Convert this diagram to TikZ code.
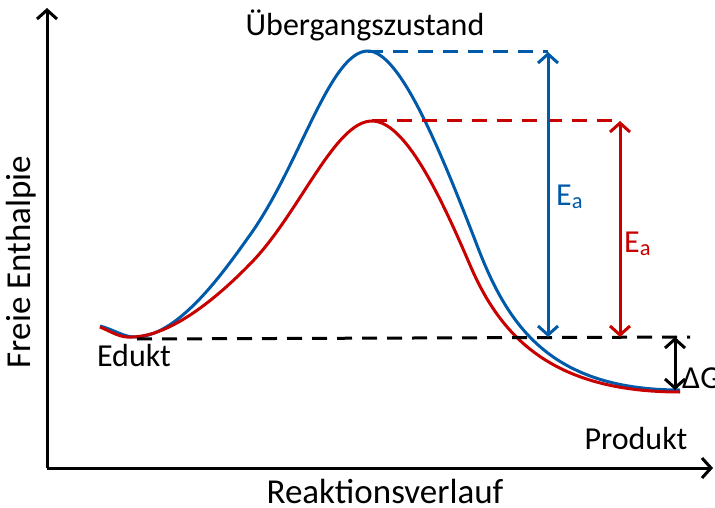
\documentclass[tikz,border=0pt]{standalone}
\usepackage{fontspec}
\setmainfont{Carlito}
\usetikzlibrary{arrows.meta}
\definecolor{eblue}{RGB}{0,90,170}
\definecolor{ered}{RGB}{200,0,0}
\tikzset{
  barb/.style={{Straight Barb[length=9pt,width=20pt]}-{Straight Barb[length=9pt,width=20pt]}},
  dashline/.style={line width=3pt,dash pattern=on 15pt off 10pt},
  curve/.style={line width=3pt},
  lbl/.style={font=\fontsize{32}{36}\selectfont,inner sep=0pt},
  axlbl/.style={font=\fontsize{35}{40}\selectfont,inner sep=0pt}
}
\begin{document}
\begin{tikzpicture}[x=1pt,y=-1pt]
\useasboundingbox (0,0) rectangle (715,508);
% axes
\coordinate (o) at (47,468);
\coordinate (ytop) at (47,8);
\coordinate (xend) at (713,468);
\draw[line width=3pt,-{Straight Barb[length=9pt,width=20pt]}] (o) -- (ytop);
\draw[line width=3pt,-{Straight Barb[length=9pt,width=20pt]}] (o) -- (xend);
\node[axlbl,rotate=90] (ylab) at (21,262) {Freie Enthalpie};
\node[axlbl,anchor=base] (xlab) at (385,503) {Reaktionsverlauf};
% curves
\draw[curve,eblue] (100,326) .. controls (115,330) and (125,338) .. (137,337)
  .. controls (180,335) and (225,270) .. (250,235)
  .. controls (300,165) and (330,51) .. (368,51)
  .. controls (400,51) and (440,150) .. (475,240)
  .. controls (505,320) and (545,390) .. (680,390);
\draw[curve,ered] (100,327) .. controls (112,332) and (120,338) .. (132,337)
  .. controls (175,336) and (225,290) .. (252,262)
  .. controls (300,212) and (335,121) .. (372,121)
  .. controls (405,121) and (440,195) .. (470,265)
  .. controls (500,335) and (550,392) .. (680,392);
% reference points
\coordinate (ed) at (137,339);
\coordinate (edend) at (690,337);
\coordinate (bpk) at (368,52);
\coordinate (bpe) at (548,52);
\coordinate (bpb) at (548,337);
\coordinate (rpk) at (372,121);
\coordinate (rpe) at (620,121);
\coordinate (rpb) at (620,337);
\coordinate (gt) at (675,337);
\coordinate (gb) at (675,390);
% dashed lines
\draw[dashline,black] (ed) -- (edend);
\draw[dashline,eblue] (bpk) -- (bpe);
\draw[dashline,ered] (rpk) -- (rpe);
% arrows
\draw[line width=3pt,eblue,barb] (bpe) -- (bpb);
\draw[line width=3pt,ered,barb] (rpe) -- (rpb);
\draw[line width=3pt,black,barb] (gt) -- (gb);
% labels
\node[lbl] (ue) at (365,25) {Übergangszustand};
\node[lbl] (edukt) at (134,356) {Edukt};
\node[lbl] (produkt) at (636,439) {Produkt};
\node[lbl,eblue,anchor=base west] (eab) at (556,205) {E\textsubscript{a}};
\node[lbl,ered,anchor=base west] (ear) at (624,252) {E\textsubscript{a}};
\node[lbl,anchor=west] (dg) at (682,378) {ΔG};
\end{tikzpicture}
\end{document}
